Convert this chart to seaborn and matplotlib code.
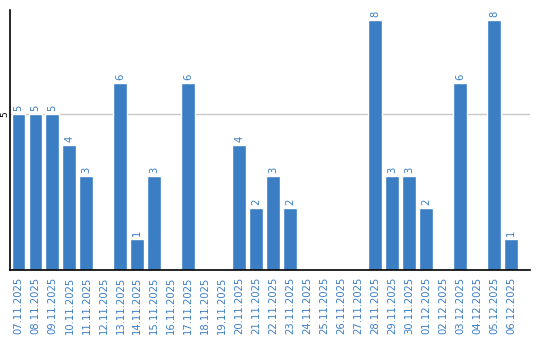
import matplotlib
matplotlib.use("Agg")
import matplotlib.pyplot as plt
import seaborn as sns
import pandas as pd

dates = ["07.11.2025", "08.11.2025", "09.11.2025", "10.11.2025", "11.11.2025",
         "12.11.2025", "13.11.2025", "14.11.2025", "15.11.2025", "16.11.2025",
         "17.11.2025", "18.11.2025", "19.11.2025", "20.11.2025", "21.11.2025",
         "22.11.2025", "23.11.2025", "24.11.2025", "25.11.2025", "26.11.2025",
         "27.11.2025", "28.11.2025", "29.11.2025", "30.11.2025", "01.12.2025",
         "02.12.2025", "03.12.2025", "04.12.2025", "05.12.2025", "06.12.2025"]
values = [5, 5, 5, 4, 3, 0, 6, 1, 3, 0, 6, 0, 0, 4, 2, 3, 2, 0, 0, 0, 0, 8, 3, 3, 2, 0, 6, 0, 8, 1]
y_ticks = [5]

BLUE = "#3b7ec4"

sns.set_style("white")
plt.rcParams["font.family"] = ["DejaVu Sans"]

df = pd.DataFrame({"date": dates, "value": values})

fig = plt.figure(figsize=(5.4, 3.4), dpi=100)
ax = fig.add_axes([10/540, 70/340, 520/540, 260/340])

sns.barplot(data=df, x="date", y="value", color=BLUE, saturation=1, width=0.82, ax=ax)

ax.set_xlim(-0.5, 30.12)
ax.set_ylim(0, 8.32)
ax.set_yticks(y_ticks)
ax.set_yticklabels([str(t) for t in y_ticks], rotation=90, va="center", fontsize=6.5)
ax.tick_params(axis="y", length=0, pad=0.5, colors="black")
ax.tick_params(axis="x", length=0, pad=5, labelsize=7.2, labelcolor=BLUE, rotation=90)
for t in y_ticks:
    ax.axhline(t, color="#c8c8c8", lw=1, zorder=0)

ax.set_xlabel("")
ax.set_ylabel("")
for s in ["top", "right"]:
    ax.spines[s].set_visible(False)
for s in ["left", "bottom"]:
    ax.spines[s].set_color("black")
    ax.spines[s].set_linewidth(1.2)

labels = [str(v) if v else "" for v in values]
ax.bar_label(ax.containers[0], labels=labels, rotation=90, padding=2, fontsize=7.2, color=BLUE)

fig.savefig("out.png", dpi=100)
